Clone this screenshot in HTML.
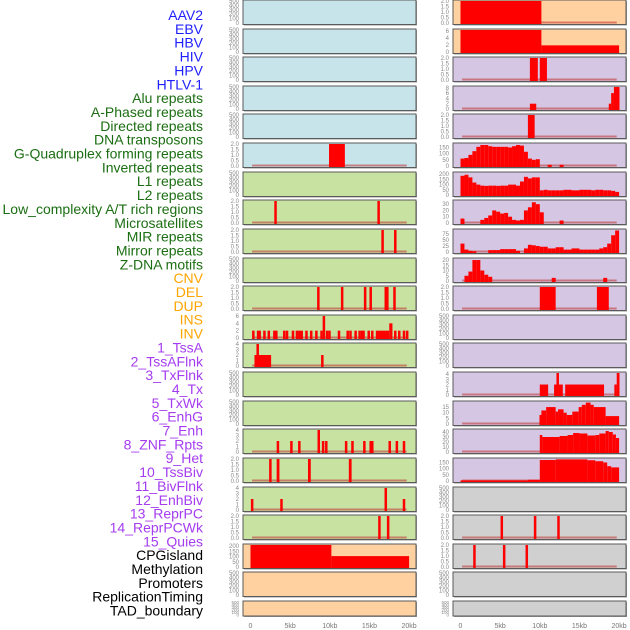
<!DOCTYPE html>
<html><head><meta charset="utf-8"><style>
body{margin:0;background:#fff;width:630px;height:630px;overflow:hidden}
svg{display:block}
text{font-family:"Liberation Sans",sans-serif}
</style></head><body>
<svg id="chart" width="630" height="630" xmlns="http://www.w3.org/2000/svg"></svg>
<script>
const labels=["AAV2","EBV","HBV","HIV","HPV","HTLV-1","Alu repeats","A-Phased repeats","Directed repeats","DNA transposons","G-Quadruplex forming repeats","Inverted repeats","L1 repeats","L2 repeats","Low_complexity A/T rich regions","Microsatellites","MIR repeats","Mirror repeats","Z-DNA motifs","CNV","DEL","DUP","INS","INV","1_TssA","2_TssAFlnk","3_TxFlnk","4_Tx","5_TxWk","6_EnhG","7_Enh","8_ZNF_Rpts","9_Het","10_TssBiv","11_BivFlnk","12_EnhBiv","13_ReprPC","14_ReprPCWk","15_Quies","CPGisland","Methylation","Promoters","ReplicationTiming","TAD_boundary"];
const labelGroups=[6,13,5,15,5];
const groupColors=["#1f1fff","#1b6e12","#ffa500","#a53cf0","#000000"];
const xTickKb=[0,5,10,15,20];
const xTickLabels=["0","5kb","10kb","15kb","20kb"];
const leftBg=["b","b","b","b","b","b","g","g","g","g","g","g","g","g","g","g","g","g","g","o","o","o"];
const rightBg=["o","o","l","l","l","l","l","l","l","l","l","l","l","l","l","l","l","y","y","y","y","y"];
const leftMax=[500,500,500,500,500,2,500,2,2,500,2,6,4,500,500,4,2,4,2,210,500,500];
const rightMax=[2,6.3,2,8.3,2,178,212,35,92,21,2,500,500,4.2,19.5,44,178,500,2,2,500,500];
const leftBars=[[],[],[],[],[],[[9.9,11.9,2]],[],
[[3.0,3.25,2],[16.0,16.25,2]],
[[16.5,16.75,2],[18.1,18.35,2]],
[],
[[8.4,8.65,2],[11.4,11.65,2],[14.3,14.55,2],[15.0,15.25,2],[16.9,17.15,2],[17.1,17.35,2],[18.0,18.3,2]],
[[0.2,0.45,2],[0.8,1.05,2],[1.0,1.3,2],[1.6,1.85,2],[2.15,2.4,2],[2.85,3.1,2],[3.1,3.35,2],[4.1,4.35,2],[4.45,4.7,2],[5.2,5.45,2],[5.7,5.95,2],[6.0,6.25,2],[6.3,6.55,2],[6.9,7.15,2],[7.5,7.75,2],[8.15,8.4,2],[8.8,9.05,2],[9.1,9.35,6],[9.5,9.75,2],[9.8,10.05,2],[11.0,11.25,2],[12.1,12.35,2],[12.45,12.7,2],[13.1,13.35,2],[13.6,13.85,2],[13.9,14.15,2],[14.1,14.35,2],[14.75,15.0,2],[15.2,15.45,2],[15.8,17.5,2],[17.5,17.9,4],[18.1,18.35,2],[18.6,18.85,2],[19.2,19.45,2],[19.6,19.85,2]],
[[0.5,2.6,2],[0.75,1.0,4],[8.9,9.2,2]],
[],[],
[[3.3,3.55,2],[5.0,5.25,2],[6.0,6.3,2],[8.45,8.65,4],[9.0,9.25,2],[9.4,9.65,2],[11.9,12.2,2],[12.7,12.95,2],[14.2,14.45,2],[15.0,15.25,2],[15.2,15.45,2],[17.4,17.65,2],[18.3,18.55,2],[19.2,19.45,2]],
[[2.35,2.65,2],[3.3,3.65,2],[7.25,7.6,2],[12.4,12.75,2]],
[[0.05,0.35,2],[3.75,4.0,2],[16.9,17.15,4],[19.2,19.45,2]],
[[16.1,16.35,2],[17.2,17.45,2]],
[[0,10.2,210],[10.2,20,104]],
[],[]];
const r5Bins=[60,65,90,120,155,170,170,160,155,155,155,155,150,160,170,165,115,60,50,55,0,0,10,0,0,10,0,0,0,0,0,0,0,0,0,0,0,0,0,0];
const r6Bins=[185,195,170,120,100,90,88,90,90,88,90,90,100,100,90,130,175,160,170,170,45,50,45,45,45,45,50,50,45,45,50,50,50,45,50,50,45,45,40,30];
const r7Bins=[7,0,0,0,0,5,8,12,20,18,15,16,10,5,4,5,20,25,33,30,17,0,0,0,0,4,0,0,0,0,0,0,0,0,0,0,0,0,0,0];
const r8Bins=[35,10,5,3,0,0,0,8,8,8,12,12,12,12,5,0,15,30,28,25,22,22,15,15,20,20,10,10,15,15,10,10,10,10,10,15,20,35,70,90];
const r9Bins=[0,5,9,20,20,10,6,4,0,0,0,0,0,0,0,0,0,0,0,0,0,0,0,3,0,0,0,0,0,0,0,0,0,0,0,0,3,0,0,0];
const rightBars=[[[0,10.2,2]],[[0,10.2,6.3],[10.2,20,1.9]],
[[8.75,9.75,2],[10.0,10.9,2]],
[[8.75,9.55,2],[18.7,19.0,2],[19.0,19.35,6],[19.35,20.05,8.3]],
[[8.5,9.35,2]],
"r5","r6","r7","r8","r9",
[[10.0,12.0,2],[17.2,18.7,2]],
[],[],
[[10.0,11.05,2],[11.8,12.1,2],[12.1,12.4,4.2],[12.4,12.9,2],[13.2,18.1,2],[19.4,19.7,2],[19.7,20.05,4.2]],
[[9.96,10.2,8],[10.2,10.8,12],[10.8,12.0,15],[12.0,12.3,11],[12.3,13.0,13],[13.0,13.4,10],[13.4,14.1,8],[14.1,14.9,11],[14.9,15.3,15],[15.3,15.8,17],[15.8,16.4,19],[16.4,16.8,17],[16.8,18.3,15],[18.3,20.0,7]],
[[10,10.3,34],[10.3,12.5,30],[12.5,13.5,32],[13.5,14.2,34],[14.2,15,38],[15,16,37],[16,17,33],[17,17.5,34],[17.5,18.3,37],[18.3,18.7,42],[18.7,19.2,40],[19.2,19.6,35],[19.6,20,28]],
[[0,8.5,5],[8.5,10,10],[10,12,170],[12,16,175],[16,17,168],[17,18,160],[18,18.5,150],[18.5,19,120],[19,20,110]],
[],
[[5.05,5.3,2],[9.25,9.5,2],[12.2,12.45,2]],
[[1.6,1.9,2],[5.35,5.65,2],[8.2,8.5,2]],
[],[]];
const binMap={r5:r5Bins,r6:r6Bins,r7:r7Bins,r8:r8Bins,r9:r9Bins};
const tickSets={500:[0,100,200,300,400,500],2:[0,0.5,1,1.5,2],6:[0,2,4,6],4:[0,1,2,3,4],210:[0,50,100,150,200],6.3:[0,2,4,6],8.3:[0,2,4,6,8],178:[0,50,100,150],212:[0,50,100,150,200],35:[0,10,20,30],92:[0,25,50,75],21:[0,5,10,15,20],4.2:[0,1,2,3,4],19.5:[0,5,10,15],44:[0,10,20,30,40]};
const bgColors={b:"#c7e4eb",g:"#c8e2a2",o:"#ffd0a0",l:"#d5c6e4",y:"#d0d0d0"};
const NS="http://www.w3.org/2000/svg";
const svg=document.getElementById("chart");
function mk(t,a,p){const e=document.createElementNS(NS,t);for(const k in a)e.setAttribute(k,a[k]);(p||svg).appendChild(e);return e;}
const colX=[243,453],panelW=173;
function xs(col,kb){return colX[col]+7.5+kb*7.93;}
function rowTop(i){return Math.round(i*28.62);}
function rowH(i){return i==21?15:24.5;}
let gi=0,gc=0;
labels.forEach((s,i)=>{
  if(gc>=labelGroups[gi]){gi++;gc=0;}gc++;
  const t=mk("text",{x:203,y:20+13.85*i,"text-anchor":"end","font-size":"14",fill:groupColors[gi]});
  t.textContent=s;
  
  
});
function fmt(v,max){return max==2?v.toFixed(1):String(v);}
function drawPanel(col,i,bg,max,bars){
  const top=rowTop(i),h=rowH(i);
  const g=mk("g",{});
  
  
  mk("rect",{x:colX[col]+1,y:top+1,width:panelW,height:h,fill:"#999"},g);
  mk("rect",{x:colX[col],y:top,width:panelW,height:h,fill:bgColors[bg],stroke:"#5a5a5a","stroke-width":1},g);
  const y0=top+h-1.5,y1=top+1;
  const ys=v=>y0-(v/max)*(y0-y1);
  let segs=bars;
  if(typeof bars==="string"){segs=binMap[bars].map((v,k)=>[k*0.5,k*0.5+0.5,v]).filter(s=>s[2]>0);}
  if(segs.length){
    mk("rect",{x:xs(col,0.2),y:y0-1.5,width:xs(col,19.7)-xs(col,0.2),height:2,fill:"#c04040",opacity:0.6},g);
  }
  segs.forEach(s=>{
    const x=xs(col,s[0]),w=Math.max(2.5,xs(col,s[1])-x);
    const r=mk("rect",{x:x,y:ys(s[2]),width:w,height:y0-ys(s[2])+1,fill:"#ff0000"},g);
    
    
  });
  const ticks=tickSets[max]||[0,100,200,300,400,500];
  ticks.forEach(v=>{
    const t=mk("text",{x:colX[col]-4,y:ys(v)+2,"text-anchor":"end","font-size":h<20?"4.5":"6",fill:"#888"},g);
    t.textContent=fmt(v,max);
    
    
  });
}
for(let i=0;i<22;i++){
  drawPanel(0,i,leftBg[i],leftMax[i],leftBars[i]);
  drawPanel(1,i,rightBg[i],rightMax[i],rightBars[i]);
}
[0,1].forEach(col=>{
  xTickKb.forEach((kb,k)=>{
    const t=mk("text",{x:xs(col,kb),y:628,"text-anchor":"middle","font-size":"7",fill:"#777"});
    t.textContent=xTickLabels[k];
    
    
  });
});
</script>
</body></html>
